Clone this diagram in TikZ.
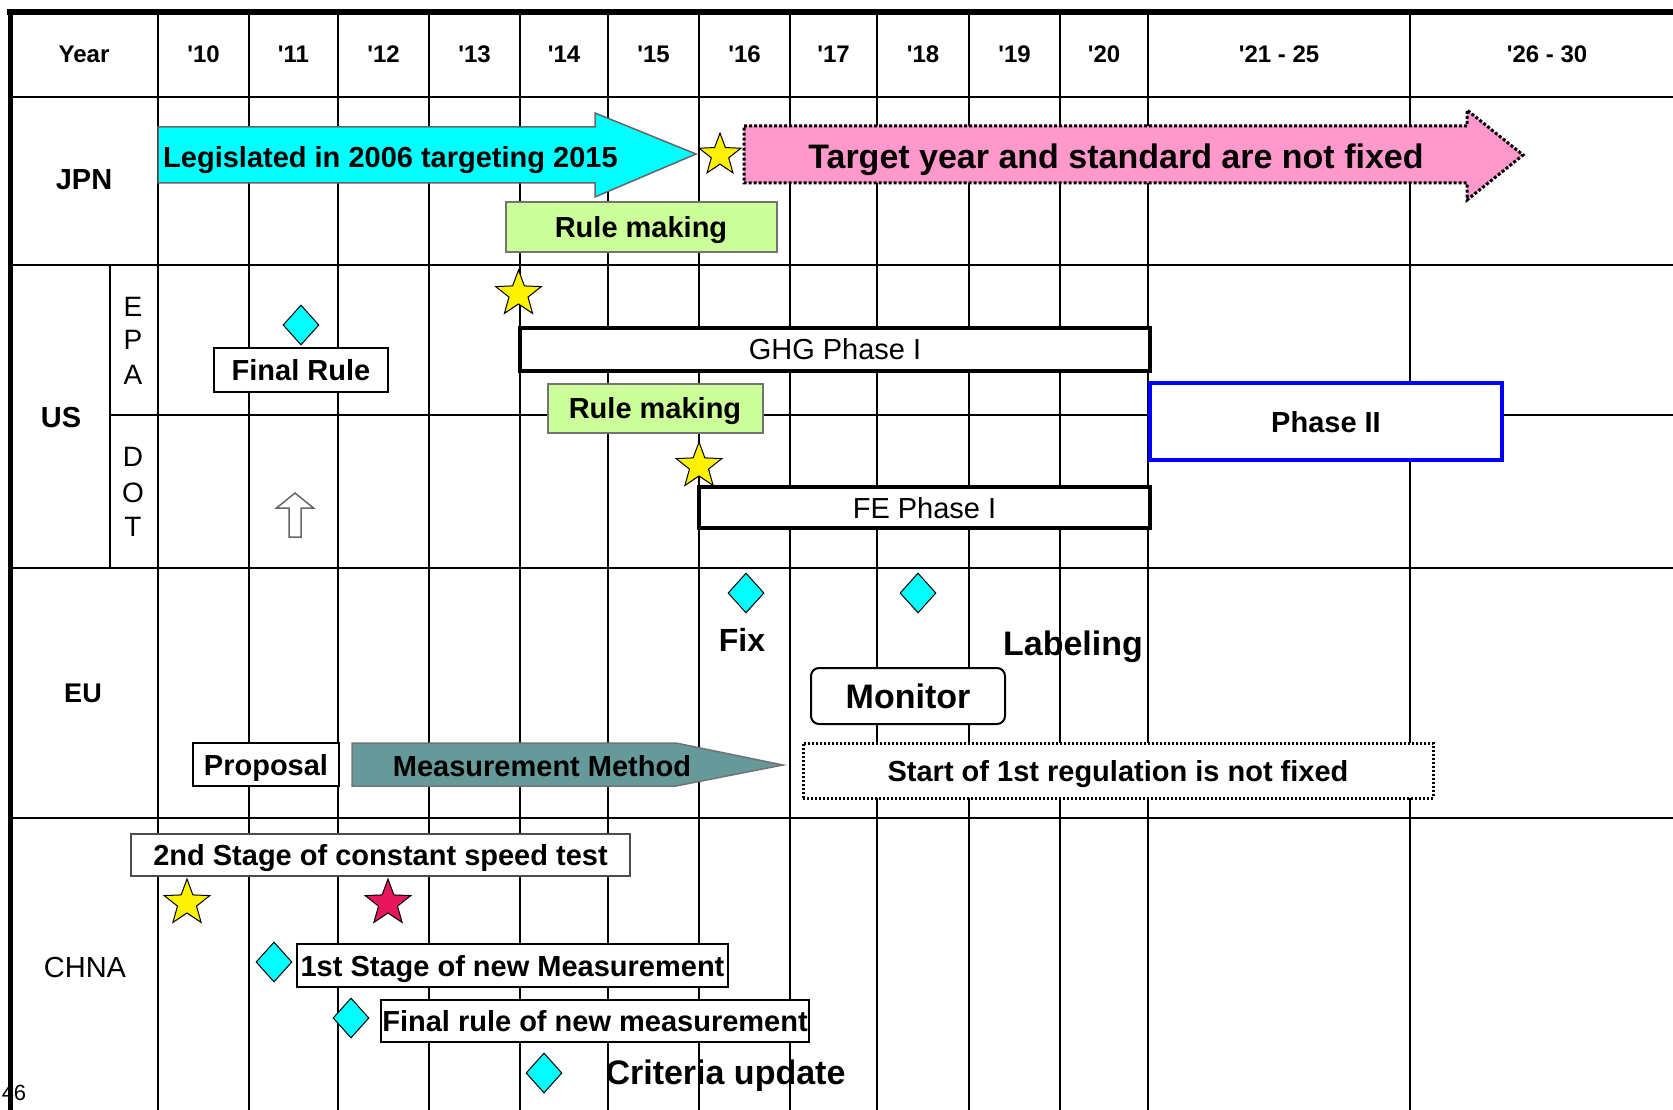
\documentclass[tikz,border=0pt]{standalone}
\usepackage{fontspec}
\setmainfont{Liberation Sans}
\usetikzlibrary{shapes,arrows,positioning}

\newcommand{\tsize}[1]{\fontsize{#1}{#1}\selectfont}
\newcommand{\yr}{\textquotesingle}
\definecolor{legcyan}{HTML}{00FFFF}
\definecolor{notpink}{HTML}{FF99CC}
\definecolor{rulegreen}{HTML}{CCFF99}
\definecolor{methteal}{HTML}{669999}
\definecolor{redstar}{HTML}{E8175D}

\begin{document}
\begin{tikzpicture}[x=1pt, y=-1pt,
    gridline/.style={line width=2pt},
    captext/.style={text depth=0pt},
    plainbox/.style={draw, fill=white, line width=2pt, inner sep=0pt, captext, font=\bfseries\tsize{29}},
    phasebox/.style={draw, fill=white, line width=4pt, inner sep=0pt, captext, font=\tsize{29}},
    greenbox/.style={draw=black!55, fill=rulegreen, line width=2pt, inner sep=0pt, captext, font=\bfseries\tsize{29}},
    gem/.style={diamond, draw, fill=legcyan, line width=1pt, inner sep=0pt, minimum width=36pt, minimum height=40pt},
    mark star/.style={star, star points=5, star point ratio=2.4, draw, line width=1pt, fill=yellow, inner sep=0pt, minimum size=48pt},
    lbl/.style={inner sep=0pt, captext, font=\bfseries\tsize{29}},
    head/.style={inner sep=0pt, captext, font=\bfseries\tsize{24}}]
  \useasboundingbox (0,0) rectangle (1673,1110);

  % table grid
  \foreach \x in {158,249,338,429,520,608,699,790,877,969,1060,1148,1410}
    \draw[gridline] (\x,12) -- (\x,1115);
  \foreach \y in {97,265,568,818}
    \draw[line width=2.5pt] (10,\y) -- (1690,\y);
  \draw[gridline] (110,415) -- (1690,415);
  \draw[gridline] (110,265) -- (110,568);
  \draw[line width=6pt] (7,12) -- (1690,12);
  \draw[line width=5pt] (10,10) -- (10,1115);

  % header row
  \node[head] (year) at (84,54) {Year};
  \foreach \x/\t in {203.5/10, 293.5/11, 383.5/12, 474.5/13, 564/14, 653.5/15,
      744.5/16, 833.5/17, 923/18, 1014.5/19, 1104/20}
    \node[head] (y\t) at (\x,54) {\yr\t};
  \node[head] (y21) at (1279,54) {\yr21 - 25};
  \node[head] (y26) at (1547,54) {\yr26 - 30};

  % row labels
  \node[lbl] (jpn) at (84,180) {JPN};
  \node[lbl] (us) at (61,417) {US};
  \node[lbl, font=\bfseries\tsize{27}] (eu) at (83,693) {EU};
  \node[lbl, font=\tsize{29}] (chna) at (85,967) {CHNA};
  \foreach \l/\y in {E/307, P/340, A/375, D/457, O/493, T/527}
    \node[lbl, font=\tsize{28}] (us\l) at (133,\y) {\l};

  % Japan
  \draw[draw=black!60, line width=1.5pt, fill=legcyan]
    (158,127) -- (595,127) -- (595,113) -- (696,154) -- (595,197) -- (595,183) -- (158,183) -- cycle;
  \node[lbl, anchor=west] (legis) at (163,157) {Legislated in 2006 targeting 2015};
  \draw[dotted, line width=3pt, fill=notpink]
    (744,126) -- (1467,126) -- (1467,110) -- (1523,155) -- (1467,200) -- (1467,183) -- (744,183) -- cycle;
  \node[lbl, font=\bfseries\tsize{34}] (target) at (1116,156) {Target year and standard are not fixed};
  \node[mark star, minimum size=44pt] (jpnstar) at (720,155) {};
  \node[greenbox, minimum width=271pt, minimum height=50pt] (rulejp) at (641,227) {Rule making};

  % US
  \node[gem] (epagem) at (301,325) {};
  \node[plainbox, minimum width=174pt, minimum height=44pt] (finalrule) at (301,370) {Final Rule};
  \node[mark star] (epastar) at (518.5,294) {};
  \node[phasebox, minimum width=630pt, minimum height=43pt] (ghg) at (835,349) {GHG Phase I};
  \node[greenbox, minimum width=215pt, minimum height=49pt] (ruleus) at (655,408) {Rule making};
  \node[mark star] (dotstar) at (699,466) {};
  \node[phasebox, minimum width=451pt, minimum height=41pt] (fe) at (924.5,507.5) {FE Phase I};
  \node[phasebox, draw=blue, font=\bfseries\tsize{29}, minimum width=352pt, minimum height=77pt] (phase2) at (1326,421.5) {Phase II};
  \draw[draw=black!60, line width=1.5pt, fill=white]
    (295,493) -- (313.5,508) -- (301,508) -- (301,537) -- (289,537) -- (289,508) -- (276.5,508) -- cycle;

  % EU
  \node[gem] (fixgem) at (746,593) {};
  \node[lbl, font=\bfseries\tsize{32}] (fix) at (742,640) {Fix};
  \node[gem] (labgem) at (918,593) {};
  \node[lbl, font=\bfseries\tsize{34}] (labeling) at (1073,643) {Labeling};
  \node[plainbox, rounded corners=8pt, font=\bfseries\tsize{34}, minimum width=194pt, minimum height=56pt] (monitor) at (908,696) {Monitor};
  \node[plainbox, minimum width=146pt, minimum height=43pt] (proposal) at (266,764.5) {Proposal};
  \draw[draw=black!55, line width=1.5pt, fill=methteal]
    (352,743) -- (676,743) -- (783,765) -- (676,786) -- (352,786) -- cycle;
  \node[lbl] (method) at (542,766) {Measurement Method};
  \node[plainbox, dotted, line width=3pt, minimum width=630pt, minimum height=55pt] (startreg) at (1118,770.5) {Start of 1st regulation is not fixed};

  % China
  \node[plainbox, draw=black!70, minimum width=499pt, minimum height=42pt] (stage2) at (380.5,855) {2nd Stage of constant speed test};
  \node[mark star] (cnstar) at (187,903) {};
  \node[mark star, fill=redstar] (cnred) at (388,903) {};
  \node[gem] (gem1) at (274,962) {};
  \node[plainbox, minimum width=431pt, minimum height=43pt] (stage1) at (512.5,965.5) {1st Stage of new Measurement};
  \node[gem] (gem2) at (351,1018) {};
  \node[plainbox, minimum width=428pt, minimum height=42pt] (finalnew) at (595,1021) {Final rule of new measurement};
  \node[gem] (gem3) at (544,1073) {};
  \node[lbl, font=\bfseries\tsize{34}] (criteria) at (725.5,1072) {Criteria update};
  \node[lbl, font=\tsize{22}] (page) at (14,1093) {46};
\end{tikzpicture}
\end{document}
